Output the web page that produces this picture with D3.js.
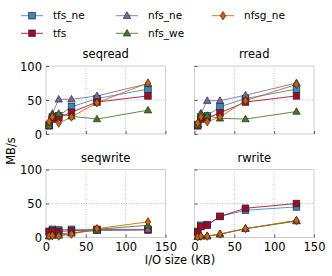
<!DOCTYPE html>
<html><head><meta charset="utf-8">
<script src="https://cdn.jsdelivr.net/npm/d3@7/dist/d3.min.js"></script>
<style>body{margin:0;background:#fff}svg{display:block}</style>
</head><body><svg id="c" width="332" height="276"></svg>
<script>
const xValues = [4, 8, 16, 32, 64, 128];
const seriesNames = ["tfs_ne", "tfs", "nfs_ne", "nfs_we", "nfsg_ne"];
const panelTitles = ["seqread", "rread", "seqwrite", "rwrite"];
const xTicks = [0, 50, 100, 150];
const yTicks = [0, 50, 100];

const seqread = {
  tfs_ne:  [14, 25, 27, 40, 52, 66],
  tfs:     [12, 22, 24, 32, 47, 56],
  nfs_ne:  [15, 30, 51, 51, 56, 74],
  nfs_we:  [12, 28, 30, 26, 22, 35],
  nfsg_ne: [18, 25, 16, 25, 46, 75]
};
const rread = {
  tfs_ne:  [14, 25, 27, 40, 52, 66],
  tfs:     [12, 22, 24, 31, 47, 56],
  nfs_ne:  [15, 30, 49, 49, 57, 75],
  nfs_we:  [13, 30, 27, 23, 22, 33],
  nfsg_ne: [16, 25, 18, 25, 49, 73]
};
const seqwrite = {
  tfs_ne:  [9, 12, 11, 12, 12, 12],
  tfs:     [8, 10, 9, 10, 11, 11],
  nfs_ne:  [2, 4, 5, 7, 10, 12],
  nfs_we:  [2, 3, 3, 6, 12, 18],
  nfsg_ne: [2, 3, 2, 5, 13, 23]
};
const rwrite = {
  tfs_ne:  [9, 18, 19, 31, 40, 45],
  tfs:     [8, 16, 18, 31, 43, 50],
  nfs_ne:  [1, 2, 2, 5, 13, 25],
  nfs_we:  [1, 2, 2, 5, 13, 24],
  nfsg_ne: [1, 2, 2, 5, 13, 25]
};
const panelData = [seqread, rread, seqwrite, rwrite];

const colors = {tfs_ne:"#348ABD", tfs:"#A60628", nfs_ne:"#7A68A6", nfs_we:"#467821", nfsg_ne:"#D55E00"};
const markers = {tfs_ne:"square", tfs:"square", nfs_ne:"triangle", nfs_we:"triangle", nfsg_ne:"diamond"};
const FONT = "DejaVu Sans, sans-serif";

const svg = d3.select("#c");

function drawMarker(g, type, color, x, y) {
  const edge = "#2a2a2a";
  if (type === "square") {
    g.append("rect").attr("x", x-3.3).attr("y", y-3.3).attr("width", 6.6).attr("height", 6.6)
      .attr("fill", color).attr("stroke", edge).attr("stroke-width", 0.7);
  } else if (type === "triangle") {
    g.append("path").attr("d", `M${x},${y-3.9}L${x+3.7},${y+2.7}L${x-3.7},${y+2.7}Z`)
      .attr("fill", color).attr("stroke", edge).attr("stroke-width", 0.7);
  } else {
    g.append("path").attr("d", `M${x},${y-4.2}L${x+2.7},${y}L${x},${y+4.2}L${x-2.7},${y}Z`)
      .attr("fill", color).attr("stroke", edge).attr("stroke-width", 0.7);
  }
}

const cols = [[46, 165.5], [194.5, 314]];
const rows = [[66, 134], [169.5, 237.5]];

panelData.forEach((data, i) => {
  const c = i % 2, r = Math.floor(i / 2);
  const x = d3.scaleLinear().domain([0, 150]).range(cols[c]);
  const y = d3.scaleLinear().domain([0, 100]).range([rows[r][1], rows[r][0]]);
  const g = svg.append("g");

  g.selectAll(".gx").data([50, 100]).join("line")
    .attr("x1", d => x(d)).attr("x2", d => x(d)).attr("y1", y(0)).attr("y2", y(100))
    .attr("stroke", "#b0b0b0").attr("stroke-width", 0.8).attr("stroke-dasharray", "1,1.5");
  g.selectAll(".gy").data([50]).join("line")
    .attr("x1", x(0)).attr("x2", x(150)).attr("y1", d => y(d)).attr("y2", d => y(d))
    .attr("stroke", "#b0b0b0").attr("stroke-width", 0.8).attr("stroke-dasharray", "1,1.5");

  g.append("rect").attr("x", x(0)).attr("y", y(100)).attr("width", x(150) - x(0)).attr("height", y(0) - y(100))
    .attr("fill", "none").attr("stroke", "#cfcfcf").attr("stroke-width", 1);

  const xa = g.append("g").attr("transform", `translate(0,${y(0)})`)
    .call(d3.axisBottom(x).tickValues(xTicks).tickSizeInner(-3).tickSizeOuter(0).tickPadding(5));
  const ya = g.append("g").attr("transform", `translate(${x(0)},0)`)
    .call(d3.axisLeft(y).tickValues(yTicks).tickSizeInner(-3).tickSizeOuter(0).tickPadding(4));
  [xa, ya].forEach(a => {
    a.select(".domain").remove();
    a.selectAll(".tick line").attr("stroke", "#333").attr("stroke-width", 0.8);
    a.selectAll("text").attr("font-family", FONT).attr("font-size", 11.5).attr("fill", "#000");
  });
  if (r === 0) xa.selectAll("text").remove();
  if (c === 1) ya.selectAll("text").remove();
  ya.selectAll("text").attr("dy", "0.36em");

  g.append("text").attr("x", (x(0) + x(150)) / 2).attr("y", y(100) - 8)
    .attr("text-anchor", "middle").attr("font-family", FONT).attr("font-size", 11.5).text(panelTitles[i]);

  const line = d3.line().x((d, j) => x(xValues[j])).y(d => y(d));
  seriesNames.forEach(s => {
    g.append("path").datum(data[s]).attr("d", line).attr("fill", "none")
      .attr("stroke", colors[s]).attr("stroke-width", 1).attr("stroke-opacity", 0.85);
  });
  seriesNames.forEach(s => {
    data[s].forEach((v, j) => drawMarker(g, markers[s], colors[s], x(xValues[j]), y(v)));
  });
});

svg.append("text").attr("transform", "translate(15,151) rotate(-90)").attr("text-anchor", "middle")
  .attr("font-family", FONT).attr("font-size", 11.5).text("MB/s");
svg.append("text").attr("x", 180).attr("y", 264).attr("text-anchor", "middle")
  .attr("font-family", FONT).attr("font-size", 11.5).text("I/O size (KB)");

const legendPos = [[21, 15.7], [21, 33.3], [116, 15.7], [116, 33.3], [212, 15.7]];
seriesNames.forEach((s, i) => {
  const [lx, ly] = legendPos[i];
  const lg = svg.append("g");
  lg.append("line").attr("x1", lx).attr("x2", lx + 22).attr("y1", ly).attr("y2", ly)
    .attr("stroke", colors[s]).attr("stroke-width", 1).attr("stroke-opacity", 0.85);
  drawMarker(lg, markers[s], colors[s], lx + 11, ly);
  lg.append("text").attr("x", lx + 32).attr("y", ly).attr("dy", "0.35em")
    .attr("font-family", FONT).attr("font-size", 10.5).text(s);
});
</script></body></html>
